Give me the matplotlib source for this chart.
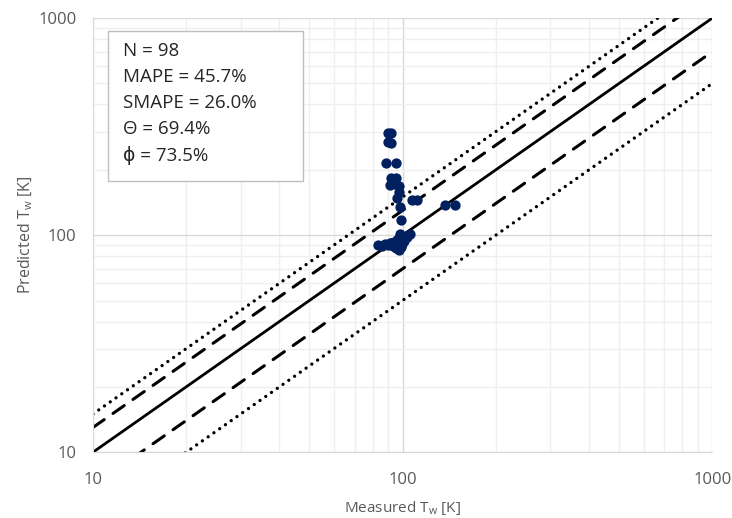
import numpy as np
import matplotlib
matplotlib.use("Agg")
import matplotlib.pyplot as plt
from matplotlib.patches import Rectangle
from matplotlib.ticker import FixedLocator, NullFormatter, FixedFormatter

plt.rcParams['font.family'] = ['Open Sans', 'DejaVu Sans']

# measured vs predicted wall temperature [K]
measured = [89.8, 91.8, 90.0, 91.5, 88.6, 95.0, 91.5, 95.5, 91.0, 94.5, 97.5,
            97.0, 96.0, 107.0, 111.0, 98.0, 137.0, 148.0, 98.5, 98.0,
            83.5, 86.0, 88.0, 90.0, 92.0, 94.0, 96.0, 98.0, 100.0, 103.0,
            106.0, 95.0, 97.0, 99.0, 93.0, 101.0, 104.0, 91.0, 96.5, 99.5]
predicted = [295.0, 295.0, 270.0, 265.0, 215.0, 215.0, 183.0, 183.0, 170.0, 172.0, 168.0,
             158.0, 148.0, 145.0, 145.0, 134.5, 137.0, 137.0, 117.0, 101.0,
             90.0, 89.5, 91.0, 90.5, 92.0, 93.0, 95.0, 99.0, 97.0, 98.0,
             101.0, 87.0, 85.0, 88.0, 89.0, 94.0, 100.0, 92.0, 96.0, 91.0]

stats_text = ["N = 98", "MAPE = 45.7%", "SMAPE = 26.0%", "Θ = 69.4%", "ϕ = 73.5%"]

line_x = [10, 1000]
bands = [(1.0, '-'), (1.3, '--'), (0.7, '--'), (1.5, ':'), (0.5, ':')]

fig = plt.figure(figsize=(7.32, 5.18), dpi=100)
ax = fig.add_axes([0.127, 0.127, 0.846, 0.838])
ax.set_xscale('log')
ax.set_yscale('log')
ax.set_xlim(10, 1000)
ax.set_ylim(10, 1000)

for k, ls in bands:
    ys = [k * v for v in line_x]
    if ls == '-':
        ax.plot(line_x, ys, color='black', lw=2.0, ls='-', zorder=2)
    elif ls == '--':
        ax.plot(line_x, ys, color='black', lw=2.2, ls=(0, (4.5, 3.5)),
                dash_capstyle='round', zorder=2)
    else:
        ax.plot(line_x, ys, color='black', lw=2.4, ls=(0, (0.01, 2.1)),
                dash_capstyle='round', zorder=2)

ax.scatter(measured, predicted, s=55, color='#002060', zorder=3, linewidths=0)

ax.grid(True, which='major', color='#d9d9d9', lw=1.0)
ax.grid(True, which='minor', color='#efefef', lw=1.0)
ax.set_axisbelow(True)

ax.xaxis.set_major_locator(FixedLocator([10, 100, 1000]))
ax.yaxis.set_major_locator(FixedLocator([10, 100, 1000]))
ax.xaxis.set_major_formatter(FixedFormatter(['10', '100', '1000']))
ax.yaxis.set_major_formatter(FixedFormatter(['10', '100', '1000']))
ax.xaxis.set_minor_formatter(NullFormatter())
ax.yaxis.set_minor_formatter(NullFormatter())
ax.tick_params(which='both', length=0, labelsize=12, labelcolor='#595959')
ax.tick_params(axis='x', pad=14)
ax.tick_params(axis='y', pad=12)

for side in ['top', 'right']:
    ax.spines[side].set_visible(False)
for side in ['left', 'bottom']:
    ax.spines[side].set_color('#d9d9d9')

ax.set_xlabel('Measured T$_\\mathregular{w}$ [K]', fontsize=11, color='#595959', labelpad=8)
ax.set_ylabel('Predicted T$_\\mathregular{w}$ [K]', fontsize=11.5, color='#595959', labelpad=2)

# stats box
ax.add_patch(Rectangle((0.0242, 0.624), 0.315, 0.346, transform=ax.transAxes,
                       fc='white', ec='#bfbfbf', lw=1.0, zorder=5))
for i, line in enumerate(stats_text):
    ax.text(0.0485, 0.925 - i * 0.0605, line, transform=ax.transAxes, fontsize=13.5,
            va='center', ha='left', color='#262626', zorder=6)

fig.savefig('out.png', dpi=100)
